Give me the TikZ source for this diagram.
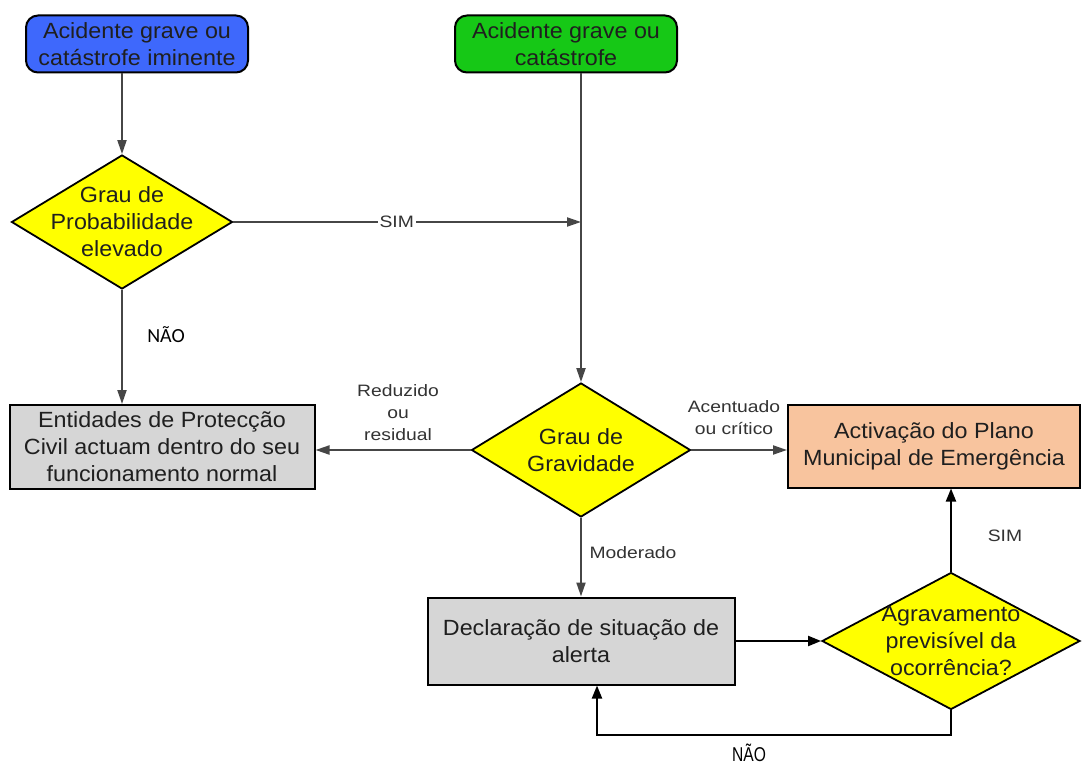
\documentclass[tikz,border=0pt]{standalone}
\usepackage{fontspec}
\setmainfont{Liberation Sans}
\newfontfamily\boxfont[FakeStretch=1.06]{Liberation Sans}
\newfontfamily\lblfont[FakeStretch=1.17]{Liberation Sans}
\newfontfamily\notefont{Carlito}
\newfontfamily\narrowfont[FakeStretch=0.78]{Liberation Sans}
\usetikzlibrary{shapes.geometric,arrows.meta}

\definecolor{startblue}{RGB}{62,104,252}
\definecolor{startgreen}{RGB}{22,200,22}
\definecolor{decyellow}{RGB}{255,255,0}
\definecolor{procgray}{RGB}{214,214,214}
\definecolor{planpeach}{RGB}{248,196,158}
\definecolor{linegray}{RGB}{70,70,70}

\begin{document}
\begin{tikzpicture}[x=1pt,y=-1pt,
  txt/.style={font=\boxfont\fontsize{22}{27}\selectfont, align=center, text=black!88},
  startbox/.style={draw=black, line width=2pt, rounded corners=12pt,
    minimum width=222pt, minimum height=57pt, inner sep=0pt, txt},
  procbox/.style={draw=black, line width=2pt, minimum height=85pt, inner sep=0pt, txt},
  decision/.style={diamond, draw=black, line width=1.8pt, fill=decyellow, inner sep=0pt},
  flow/.style={line width=2pt, draw=linegray, -{Triangle[length=14pt,width=9pt]}},
  flowk/.style={line width=2pt, draw=black, -{Triangle[length=13pt,width=10pt]}},
  lbl/.style={font=\lblfont\fontsize{16.5}{22}\selectfont, align=center, text=black!80},
]
\useasboundingbox[fill=white] (0,0) rectangle (1082,765);

% start events
\node[startbox, fill=startblue] (imin) at (137,44) {Acidente grave ou\\catástrofe iminente};
\node[startbox, fill=startgreen] (acid) at (566,44) {Acidente grave ou\\catástrofe};

% decisions
\node[decision, minimum width=221pt, minimum height=134pt] (prob) at (122,222) {};
\node[txt] (probtxt) at (prob) {Grau de\\Probabilidade\\elevado};
\node[decision, minimum width=219pt, minimum height=134pt] (grav) at (581,450) {};
\node[txt] (gravtxt) at (grav) {Grau de\\Gravidade};
\node[decision, minimum width=258pt, minimum height=137pt] (agrav) at (951,641) {};
\node[txt] (agravtxt) at (agrav) {Agravamento\\previsível da\\ocorrência?};

% process boxes
\node[procbox, fill=procgray, minimum width=305pt, minimum height=84pt] (norm) at (162,447)
  {Entidades de Protecção\\Civil actuam dentro do seu\\funcionamento normal};
\node[procbox, fill=planpeach, minimum width=292pt, minimum height=83pt] (plano) at (934,446)
  {Activação do Plano\\Municipal de Emergência};
\node[procbox, fill=procgray, minimum width=307pt, minimum height=87pt] (alerta) at (581,641)
  {Declaração de situação de\\alerta};

% connectors
\draw[flow] (prob.north |- imin.south) -- (prob.north);
\draw[flow] (grav.north |- acid.south) -- (grav.north);
\draw[flow] (prob.east) -- (prob.east -| grav.north)
  node[pos=0.47, fill=white, inner sep=2pt, lbl] (simA) {SIM};
\draw[flow] (prob.south) -- (prob.south |- norm.north);
\node[font=\notefont\fontsize{20}{24}\selectfont, text=black] (naoA) at (166,335) {NÃO};
\draw[flow] (grav.west) -- (grav.west -| norm.east);
\node[lbl] (reduz) at (398,413) {Reduzido\\ou\\residual};
\draw[flow] (grav.east) -- (grav.east -| plano.west);
\node[lbl] (acent) at (734,418) {Acentuado\\ou crítico};
\draw[flow] (grav.south) -- (grav.south |- alerta.north);
\node[lbl] (moder) at (633,553) {Moderado};

\draw[flowk] (alerta.east) -- (alerta.east -| agrav.west);
\draw[flowk] (agrav.north) -- (agrav.north |- plano.south);
\node[lbl] (simB) at (1005,536) {SIM};
\coordinate (loopR) at (951,735);
\coordinate (loopL) at (597,735);
\draw[flowk] (agrav.south) -- (loopR) -- (loopL) -- (loopL |- alerta.south);
\node[font=\narrowfont\fontsize{20}{22}\selectfont, text=black, inner sep=0pt] (naoB) at (749,753) {NÃO};
\end{tikzpicture}
\end{document}
